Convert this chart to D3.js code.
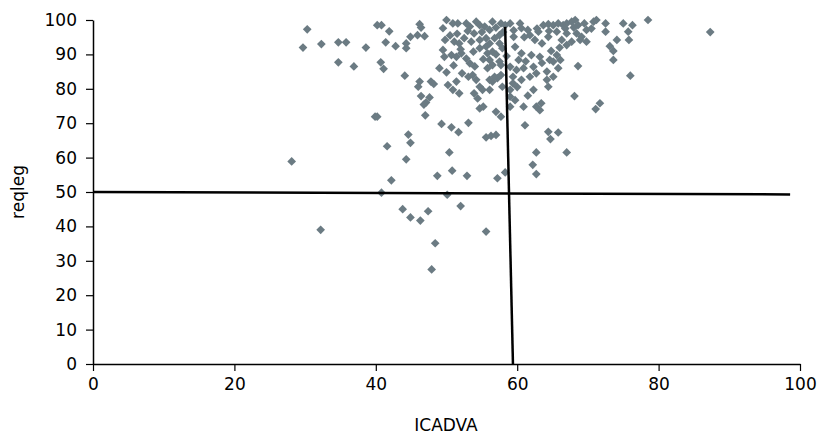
<!DOCTYPE html>
<html>
<head>
<meta charset="utf-8">
<script src="https://cdn.jsdelivr.net/npm/d3@7"></script>
<style>
  html, body { margin: 0; padding: 0; background: #fff; }
  text { font-family: Verdana, "DejaVu Sans", sans-serif; }
</style>
</head>
<body>
<svg id="chart" width="821" height="435"></svg>
<script>
// ---- data ----
const xTicks = [0, 20, 40, 60, 80, 100];
const yTicks = [0, 10, 20, 30, 40, 50, 60, 70, 80, 90, 100];
const xLabel = "ICADVA";
const yLabel = "reqleg";

const icadva = [
  28.1, 32.2, 41.6, 44.6, 44.9, 44.3, 42.2, 40.8, 43.8, 44.9, 46.3, 47.4, 48.4, 47.9,
  50.4, 48.7, 50.8, 52.9, 50.1, 52.0, 55.6, 57.2, 58.3, 55.6, 56.3, 57.0,
  50.7, 51.7, 49.3, 53.1, 62.7, 62.2, 62.7, 64.4, 65.8, 64.7, 67.0, 61.1,
  30.3, 29.7, 32.3, 34.7, 35.8, 38.6, 34.7, 36.9, 40.2, 40.8, 41.9, 41.4, 42.8, 40.7, 41.1, 44.1,
  44.3, 44.3, 44.9, 46.2, 46.4, 45.9, 46.9, 46.2, 46.0, 47.8, 48.2, 46.4, 47.6, 47.1, 46.8, 47.0, 39.9, 40.2,
  50.2, 50.9, 51.4, 51.8, 52.2, 53.1, 53.7, 54.2, 54.7, 53.9, 54.4, 55.1, 56.1, 56.5, 57.2, 54.7, 55.2, 57.0, 57.7,
  50.0, 50.9, 51.6, 49.5, 52.8, 53.3, 54.2, 54.7, 55.4, 56.1, 57.7,
  49.8, 51.1, 51.8, 52.5, 53.5, 53.9, 54.7, 55.6, 56.1, 56.8, 57.5,
  49.5, 49.7, 50.7, 51.4, 52.1, 52.8, 53.3,
  54.7, 55.6, 55.8, 56.5, 57.5,
  56.1, 55.8, 56.5, 57.5,
  56.1, 56.8, 57.7, 57.9, 57.7, 57.9,
  58.3, 59.0, 60.4, 60.6, 61.5,
  63.7, 64.4, 65.1, 65.8, 66.5, 67.0, 67.7, 68.2, 68.6, 69.8, 70.8, 71.2, 72.5, 72.5, 75.0, 76.3, 75.7, 78.5,
  65.6, 67.0, 68.4, 69.1,
  62.5, 63.5, 64.4, 66.3, 67.0, 67.7, 68.9, 69.8,
  73.1, 73.6, 74.1, 75.8, 73.6, 68.6, 76.0, 68.1, 71.7, 71.1,
  59.7, 60.6, 60.2, 62.0, 63.2, 64.6, 65.6, 65.1, 66.1,
  59.0, 59.9, 60.9, 62.3, 59.4, 60.6, 61.8, 62.7,
  64.2, 65.1, 65.8, 64.2, 64.4,
  62.3, 59.0, 59.7, 59.0, 60.9, 62.7, 63.4, 63.2, 59.4, 59.0,
  87.3, 61.8, 63.0, 59.5,
  58.0, 57.0, 56.5, 55.0, 53.0, 51.5, 50.5, 52.0, 53.8, 55.2, 54.0, 51.0, 50.0, 49.0,
  59.5, 61.0, 62.8, 64.5, 66.8, 68.0, 69.5, 70.5, 66.0, 64.8, 63.5, 61.2, 60.0, 61.5, 58.5, 57.0
];
const reqleg = [
  58.9, 39.0, 63.3, 66.7, 64.3, 59.5, 53.4, 49.8, 45.0, 42.6, 41.7, 44.4, 35.1, 27.5,
  61.5, 54.7, 56.2, 54.7, 49.2, 45.9, 38.5, 54.0, 55.7, 65.9, 66.3, 66.6,
  68.8, 67.4, 69.8, 70.1, 61.5, 57.9, 55.2, 67.5, 67.3, 65.4, 61.5, 69.4,
  97.3, 92.0, 93.0, 93.5, 93.5, 92.0, 87.7, 86.5, 98.5, 98.5, 96.7, 93.5, 92.4, 87.7, 85.8, 83.8,
  93.2, 91.8, 95.1, 98.8, 97.8, 95.6, 95.3, 82.1, 80.6, 82.1, 81.4, 77.9, 77.5, 76.0, 75.4, 72.3, 71.9, 71.9,
  81.1, 79.7, 82.1, 78.7, 84.5, 83.5, 84.0, 82.6, 80.6, 78.7, 77.2, 79.7, 79.7, 82.1, 83.1, 74.3, 74.8, 73.3, 71.9,
  100, 99.0, 99.0, 97.6, 99.0, 98.1, 99.5, 98.5, 98.1, 97.1, 99.0,
  94.2, 93.7, 93.2, 94.7, 93.7, 96.1, 94.2, 94.7, 93.2, 94.7, 95.6,
  91.3, 89.3, 89.8, 89.3, 90.3, 88.8, 87.4,
  91.8, 92.3, 90.3, 90.8, 93.2,
  88.4, 86.0, 86.9, 87.9,
  82.6, 83.5, 84.0, 80.6, 86.9, 91.8,
  98.5, 99.0, 99.0, 97.6, 97.1,
  98.5, 98.8, 98.5, 99.0, 98.5, 99.0, 99.5, 100, 98.5, 97.1, 99.5, 100, 99.0, 96.6, 99.0, 98.5, 96.6, 100,
  96.6, 96.1, 96.1, 95.1,
  94.2, 93.2, 95.1, 94.2, 92.7, 93.7, 94.2, 93.7,
  92.4, 91.0, 94.2, 94.2, 88.4, 86.6, 83.8, 77.9, 75.8, 74.1,
  92.2, 90.3, 88.4, 89.8, 89.3, 88.4, 89.8, 87.9, 88.4,
  86.4, 85.5, 86.0, 86.4, 83.5, 82.6, 83.5, 84.5,
  85.0, 83.5, 86.0, 82.6, 80.6,
  79.7, 77.7, 76.7, 74.8, 74.8, 74.8, 75.8, 73.8, 81.6, 79.7,
  96.5, 95.6, 96.6, 95.1,
  96.5, 97.8, 99.5, 96.5, 96.8, 96.0, 95.5, 91.5, 90.8, 88.6, 86.5, 86.8, 84.8, 86.0,
  97.0, 95.0, 97.5, 96.8, 97.5, 97.8, 99.0, 97.5, 92.0, 91.0, 87.5, 88.0, 80.5, 78.0, 89.5, 90.0
];
// reference lines (endpoints in data units)
const hLine = [[0, 50.0], [98.6, 49.3]];
const vLine = [[58.3, 98.0], [59.4, 0]];

// ---- drawing ----
const svg = d3.select("#chart");
const x = d3.scaleLinear().domain([0, 100]).range([93, 800]);
const y = d3.scaleLinear().domain([0, 100]).range([364, 20]);

const pts = icadva.map((v, i) => ({ x: v, y: reqleg[i] }));

svg.append("g").selectAll("path")
  .data(pts).enter().append("path")
  .attr("d", d3.symbol(d3.symbolSquare, 38)())
  .attr("transform", d => `translate(${x(d.x)},${y(d.y)}) rotate(45)`)
  .attr("fill", "#6b7b83");

const line = d3.line().x(d => x(d[0])).y(d => y(d[1]));
svg.append("path").attr("d", line(hLine)).attr("stroke", "#000").attr("stroke-width", 2.5).attr("fill", "none");
svg.append("path").attr("d", line(vLine)).attr("stroke", "#000").attr("stroke-width", 2.5).attr("fill", "none");

const yAxis = svg.append("g").attr("transform", "translate(93,0)")
  .call(d3.axisLeft(y).tickValues(yTicks).tickSize(7).tickSizeOuter(0).tickPadding(9));
const xAxis = svg.append("g").attr("transform", "translate(0,364)")
  .call(d3.axisBottom(x).tickValues(xTicks).tickSize(7).tickSizeOuter(0).tickPadding(7));

[yAxis, xAxis].forEach(g => {
  g.select(".domain").attr("stroke", "#000").attr("stroke-width", 1.5);
  g.selectAll(".tick line").attr("stroke", "#000").attr("stroke-width", 1.2);
  g.selectAll(".tick text").attr("font-size", 17).attr("fill", "#000")
    .attr("font-family", "Verdana, 'DejaVu Sans', sans-serif");
});

svg.append("text").attr("x", 446).attr("y", 431).attr("text-anchor", "middle")
  .attr("font-size", 17).attr("fill", "#000").text(xLabel);
svg.append("text").attr("transform", "translate(24,192) rotate(-90)").attr("text-anchor", "middle")
  .attr("font-size", 17).attr("fill", "#000").text(yLabel);
</script>
</body>
</html>
